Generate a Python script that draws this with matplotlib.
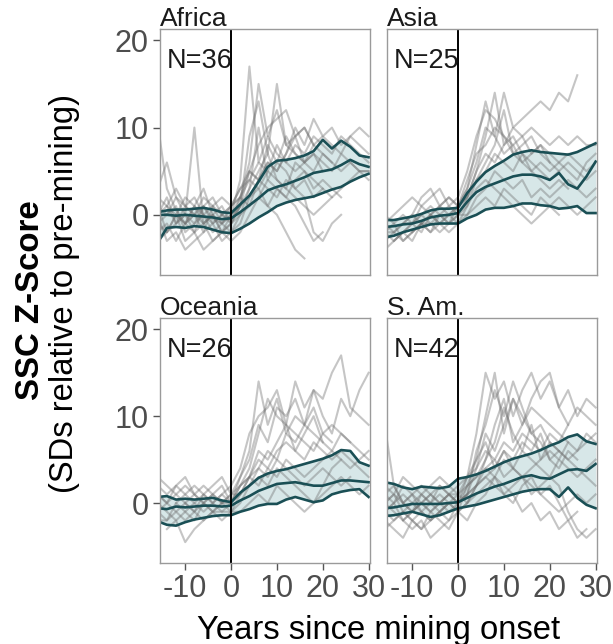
import numpy as np
import matplotlib
matplotlib.use('Agg')
import matplotlib.pyplot as plt

plt.rcParams['font.family'] = ['Liberation Sans', 'DejaVu Sans']
plt.rcParams['axes.unicode_minus'] = False

N = np.nan
years = [-16, -14, -12, -10, -8, -6, -4, -2, 0, 2, 4, 6, 8, 10, 12, 14, 16, 18, 20, 22, 24, 26, 28, 30]

regions = ['Africa', 'Asia', 'Oceania', 'S. Am.']
n_sites = [36, 25, 26, 42]

# 25%, 50%, 75% quantile lines per region
africa_hi = [0.3, 0.5, 0.6, 0.6, 0.7, 0.8, 0.6, 0.3, 0.2, 1.2, 2.2, 3.8, 5.5, 6.2, 6.3, 6.5, 6.8, 7.3, 8.6, 7.6, 8.5, 7.8, 6.8, 6.6]
africa_med = [0.0, 0.0, -0.1, 0.0, -0.1, -0.2, -0.3, -0.5, -0.4, 0.3, 1.1, 1.9, 2.8, 3.2, 3.5, 3.9, 4.3, 4.8, 5.0, 5.2, 5.7, 6.3, 5.8, 5.5]
africa_lo = [-3.2, -1.5, -1.4, -1.5, -1.3, -1.4, -1.7, -2.0, -2.1, -1.6, -1.0, -0.3, 0.3, 1.0, 1.4, 1.7, 1.9, 2.1, 2.5, 2.9, 3.2, 3.8, 4.3, 4.7]

asia_hi = [-0.6, -0.6, -0.4, -0.2, 0.1, 0.5, 0.7, 0.7, 0.8, 2.5, 3.8, 4.9, 5.6, 6.2, 6.9, 7.2, 7.4, 7.2, 7.1, 7.0, 6.9, 7.2, 7.7, 8.2]
asia_med = [-1.4, -1.3, -1.1, -1.0, -0.7, -0.3, -0.1, 0.0, 0.2, 1.5, 2.6, 3.2, 3.6, 4.0, 4.4, 4.6, 4.6, 4.4, 4.0, 4.8, 3.5, 3.0, 4.4, 6.1]
asia_lo = [-2.6, -2.4, -2.0, -1.7, -1.4, -1.1, -1.0, -1.0, -1.0, -0.4, 0.0, 0.6, 0.8, 0.8, 1.0, 1.3, 1.3, 1.1, 1.0, 0.7, 0.8, 1.0, 0.2, 0.2]

oceania_hi = [0.7, 0.8, 0.4, 0.5, 0.4, 0.5, 0.6, 0.3, 0.1, 1.2, 2.0, 2.9, 3.4, 3.7, 3.9, 4.2, 4.5, 4.8, 5.1, 5.5, 6.1, 6.0, 4.7, 4.3]
oceania_med = [-0.6, -0.7, -0.4, -0.5, -0.4, -0.3, -0.3, -0.4, -0.3, 0.3, 0.8, 1.4, 1.8, 2.2, 2.3, 2.4, 2.2, 2.0, 2.0, 2.3, 2.6, 2.6, 2.5, 2.4]
oceania_lo = [-2.1, -2.5, -2.6, -2.2, -1.9, -1.7, -1.5, -1.4, -1.4, -1.0, -0.7, -0.3, -0.1, -0.1, 0.4, 0.7, 0.4, 0.1, 0.3, 1.0, 1.3, 1.5, 1.6, 0.7]

sam_hi = [2.4, 2.2, 1.8, 1.6, 1.9, 1.8, 1.7, 1.9, 2.8, 3.0, 3.3, 3.7, 4.2, 4.7, 5.1, 5.4, 5.7, 6.1, 6.6, 7.0, 7.6, 7.9, 7.1, 6.8]
sam_med = [-0.6, -0.5, -0.3, -0.1, -0.1, -0.1, -0.1, 0.0, 0.1, 0.6, 1.1, 1.5, 1.9, 2.2, 2.6, 3.0, 3.2, 2.9, 2.8, 3.3, 3.8, 3.9, 3.7, 4.5]
sam_lo = [-1.5, -1.4, -1.2, -1.0, -1.3, -1.6, -1.4, -1.0, -0.6, -0.4, -0.2, 0.1, 0.4, 0.7, 1.0, 1.3, 1.5, 1.6, 1.6, 0.7, 1.8, 0.6, -0.2, -0.6]

# individual site series (a subset)
africa_sites = [
    [10.5, 3, 0.5, -1, 0, 1, -0.5, -1, 0, 4, 17, 6, 9, 7, 6, 8, 7, 9, 8, 7, 9, 8, 7, 6],
    [1, -2, -1, 0, 10, -1, 0, -2, -1, 2, 6, 15, 9, 12, 8, 7, 6, 5, 7, 6, N, N, N, N],
    [-1, 0, 1, -2, -1, 0, -2, -1, -2, 0, 3, 5, 7, 15, 8, 9, 6, 7, 5, N, N, N, N, N],
    [0, -3, -2, -4, -3, -2, -1, -3, -2, -1, 2, 3, 1, 0, -2, -4, -5, N, N, N, N, N, N, N],
    [2, 1, 3, 1, 2, 0, 1, 2, 1, 3, 5, 4, 6, 5, 7, 9, 10, 8, 7, 6, 5, 6, 5, 4],
    [-2, -1, -3, -1, -2, -4, -3, -2, -3, -2, 0, 2, 1, 3, 2, 1, -1, -3, -2, N, N, N, N, N],
    [N, N, 0, 2, 1, 3, 0, -1, 1, 2, 4, 3, 5, 4, 3, 6, 5, 4, 3, 2, 3, 4, 5, 5],
    [3, 6, 2, 1, 0, -1, 0, 1, -1, 1, 9, 13, 7, 4, 3, 2, 1, 0, 1, 2, N, N, N, N],
    [-3, -2, 0, -1, 1, 0, -1, 0, 1, 2, 1, 4, 3, 2, 4, 3, 2, -2, -3, -1, 0, N, N, N],
    [0, 1, -1, 0, -2, 1, -1, 0, -0.5, 1, 2, 4, 6, 5, 7, 10, 8, 11, 9, 10, 8, 9, 10, 9],
    [N, N, N, -1, 0, -2, 1, 0, -1, 1, 5, 8, 10, 11, 12, 9, 10, 8, N, N, N, N, N, N],
    [1, 0, 2, 0, -1, 1, 2, 0, 1, 3, 4, 6, 5, 8, 6, 5, 6, 7, 6, 5, 7, 6, 5, 5],
    [0, 2, -1, 1, 0, 2, 1, -1, 0, 2, 5, 4, 8, 6, 9, 7, 6, 8, 9, 8, 7, 9, 8, 7],
    [-1, -2, 0, -3, -2, -1, -3, -2, -1, 0, 1, 2, 4, 3, 2, 4, 5, 3, 4, 3, 2, N, N, N],
    [N, 1, 0, -1, 1, -1, 0, -2, 0, 1, 3, 10, 4, 6, 5, 3, 4, 2, 3, N, N, N, N, N],
]
asia_sites = [
    [-2, -1, -3, -2, -1, 0, -1, 0, 1, 3, 8, 13, 9, 14, 10, 11, 12, 13, 12, 14, 13, 16, N, N],
    [N, -3, -2, -1, 0, 1, 0, -1, 0, 2, 5, 9, 14, 8, 10, 9, 7, 8, 6, N, N, N, N, N],
    [-4, -3, -2, -3, -1, -2, -1, 0, -1, 1, 4, 6, 8, 12, 7, 6, 5, 6, 5, 6, 7, 6, 5, 6],
    [-1, 0, 1, 2, 1, 0, 1, 2, 1, 3, 6, 10, 9, 7, 8, 6, 7, 8, 7, 6, 5, 4, 6, 7],
    [-2, -2, -1, -1, 0, -1, 0, 1, 0, 1, 3, 4, 3, 2, 1, 0, -1, 0, 1, 0, N, N, N, N],
    [N, N, -1, 0, 2, 3, 1, 2, 1, 4, 7, 8, 10, 9, 8, 9, 10, 9, 8, 9, 8, 9, 8, 8],
    [-3, -2, -3, -2, -1, -1, -2, -1, 0, 0, 2, 3, 5, 4, 3, 4, 2, 3, 2, 3, 4, 3, 2, 3],
    [0, -1, 0, -1, 1, 2, 3, 1, 2, 5, 9, 12, 11, 9, 7, 8, 9, 7, 6, 5, N, N, N, N],
    [-1, -2, -1, 0, -1, 0, 1, 0, 1, 2, 4, 5, 7, 6, 5, 7, 6, 5, 4, 5, 6, 5, 4, 5],
    [N, N, N, -2, -1, -2, 0, -1, 1, 2, 5, 7, 6, 8, 9, 7, 5, 4, 3, 4, 3, N, N, N],
    [-2, -3, -2, -1, -2, 0, -1, -2, -1, 0, 1, 2, 1, 3, 2, 1, 0, 2, 1, 2, 1, 0, 1, 2],
]
oceania_sites = [
    [3, 2, 1, 2, 1, 0, 1, 2, 0, 2, 4, 8, 12, 10, 9, 14, 11, 13, 12, 15, 17, 11, 10, 9],
    [-1, 0, 2, 1, 0, 1, 0, 1, 0, 3, 6, 14, 9, 12, 8, 10, 9, 13, 10, 8, 12, 10, 13, 15],
    [N, -3, -2, -4.5, -3, -2, -1, -1, 0, 1, 3, 4, 6, 5, 8, 7, 9, 11, 8, 7, N, N, N, N],
    [0, -1, -2, -1, 0, -1, 0, -1, -1, 0, 2, 3, 2, 4, 3, 2, 1, 0, 1, 2, 3, 2, 1, 2],
    [2, 1, 2, 3, 1, 2, 1, 0, 1, 2, 3, 5, 4, 6, 7, 6, 5, 7, 6, 5, 6, 5, 4, 3],
    [-2, -2, -1, -2, -1, -2, -1, -2, -1, -1, 0, 1, 0, 2, 1, 0, -1, 0, 2, 4, 5, N, N, N],
    [N, N, N, 0, -1, 1, 0, 1, 2, 4, 8, 10, 11, 13, 9, 8, 7, 6, 8, 9, 8, 7, N, N],
    [1, 0, -1, 0, 1, 0, -1, 0, 1, 1, 3, 2, 4, 3, 5, 4, 3, 4, 5, 6, 8, 7, 6, 5],
    [1, 0, 1, 0, -1, 0, 1, 0, 0, 2, 3, 6, 5, 7, 9, 6, 8, 10, 7, 6, 5, 4, 5, 6],
    [-1, -2, 0, -1, -2, 0, -1, 0, -1, 1, 2, 4, 3, 5, 4, 3, 2, 3, 4, 3, 2, 3, N, N],
    [N, N, 0, 1, 2, 1, 2, 3, 1, 3, 5, 9, 7, 11, 10, 12, 9, 8, 7, N, N, N, N, N],
]
sam_sites = [
    [9, 2, 0, 1, -1, 0, 1, 0, -1, 2, 5, 10, 15, 8, 12, 9, 11, 10, 9, 8, 7, N, N, N],
    [0, -1, -2, -1, 0, -1, 0, 1, 0, 3, 8, 15, 12, 14, 10, 13, 15, 12, 14, 11, 13, 10, 12, 11],
    [-2, -3, -4, -2, -3, -1, -2, -3, -1, 0, 2, 5, 7, 11, 8, 6, 9, 5, 7, 6, 5, 4, 3, 2],
    [1, 2, 0, 1, 2, 1, 0, 1, 2, 3, 4, 6, 5, 7, 6, 8, 7, 6, 8, 7, 9, 11, 10, 9],
    [-1, 0, -2, -3, -2, -4, -3, -2, -1, -2, 0, 1, 3, 2, 1, -1, 0, -2, -1, -3, -2, -4, -3, N],
    [N, N, 0, -1, 1, 0, 2, 1, 0, 1, 6, 9, 13, 10, 14, 11, 8, 9, 7, 6, N, N, N, N],
    [2, 1, 3, 2, 1, 2, 3, 2, 1, 2, 3, 4, 3, 5, 4, 3, 4, 5, 6, 5, 7, 6, 8, 7],
    [-1, 0, 1, 0, -1, -2, -1, 0, 1, 0, 2, 3, 4, 6, 4, 3, 2, 1, 0, -1, 0, 1, 0, 1],
    [0, 1, -1, 0, 1, 0, -1, 0, 0, 1, 4, 8, 6, 9, 12, 10, 8, 7, 5, 4, 6, 5, N, N],
    [N, N, -2, -1, 0, -1, 0, -1, 0, 1, 2, 3, 2, 1, 2, 3, 1, 2, 3, 2, -1, -3, -4, -3],
    [-1, -2, -1, -2, -1, -2, -1, -2, 0, 1, 2, 4, 5, 3, 4, 6, 5, 4, 3, 5, 4, 3, 4, 5],
    [0, 1, 0, -1, 0, 1, 0, 1, 0, 2, 3, 5, 9, 12, 7, 9, 12, 14, 15, 11, 9, N, N, N],
    [-3, -2, -1, -2, -3, -2, -1, 0, -1, 0, 1, 2, 3, 1, 0, 2, 3, 1, 2, 0, -2, -1, N, N],
    [1, 0, 2, 1, 0, 1, 2, 1, 1, 3, 5, 7, 4, 6, 5, 7, 6, 8, 5, 6, 5, 6, 7, 8],
]

sites = [africa_sites, asia_sites, oceania_sites, sam_sites]
bands = [(africa_lo, africa_med, africa_hi), (asia_lo, asia_med, asia_hi),
         (oceania_lo, oceania_med, oceania_hi), (sam_lo, sam_med, sam_hi)]

TEAL = '#1a4f55'
W, H = 613, 644
fig = plt.figure(figsize=(W / 100, H / 100), dpi=100)

# panel boxes in pixels: left, top, width, height
boxes = [(160, 29, 210, 246), (387, 29, 210, 246),
         (160, 318, 210, 245), (387, 318, 210, 245)]

for i, (ax_box, name, n, lines, (lo, med, hi)) in enumerate(zip(boxes, regions, n_sites, sites, bands)):
    l, t, w, h = ax_box
    ax = fig.add_axes([l / W, 1 - (t + h) / H, w / W, h / H])
    for s in lines:
        ax.plot(years, s, color='#707070', alpha=0.4, lw=1.5)
    ax.fill_between(years, lo, hi, color='#a7cacc', alpha=0.45, lw=0)
    for q in (lo, med, hi):
        ax.plot(years, q, color=TEAL, lw=1.9)
    ax.axvline(0, color='black', lw=1.4)
    ax.set_xlim(-15.5, 30.3)
    ax.set_ylim(-6.9, 21.3)
    ax.set_xticks([-10, 0, 10, 20, 30])
    ax.set_yticks([0, 10, 20])
    for sp in ax.spines.values():
        sp.set_color('#9a9a9a')
        sp.set_linewidth(1.0)
    ax.tick_params(labelcolor='#4d4d4d', labelsize=22, length=5, width=1, pad=3, color='#555555')
    if i % 2 == 1:
        ax.tick_params(axis='y', left=False, labelleft=False)
    if i < 2:
        ax.tick_params(axis='x', bottom=False, labelbottom=False)
    ax.text(0.0, 1.012, name, transform=ax.transAxes, ha='left', va='baseline',
            fontsize=19, color='#1a1a1a')
    ax.text(0.03, 0.87, f'N={n}', transform=ax.transAxes, ha='left', va='center',
            fontsize=19.5, color='#1a1a1a')

xl = fig.text(379 / W, 1 - 630 / H, 'Years since mining onset', ha='center', va='center', fontsize=24)
yl1 = fig.text(31 / W, 1 - 300 / H, 'SSC Z-Score', rotation=90, ha='center', va='center',
               fontsize=23, fontweight='bold')
yl2 = fig.text(65 / W, 1 - 293 / H, '(SDs relative to pre-mining)', rotation=90, ha='center', va='center',
               fontsize=23)

# scale axis title fonts so their lengths match the reference (px)
renderer = fig.canvas.get_renderer()
for txt, target, along in [(xl, 363, 'w'), (yl1, 200, 'h'), (yl2, 400, 'h')]:
    bb = txt.get_window_extent(renderer)
    cur = bb.width if along == 'w' else bb.height
    txt.set_fontsize(txt.get_fontsize() * target / cur)

fig.savefig('out.png', dpi=100, facecolor='white')
